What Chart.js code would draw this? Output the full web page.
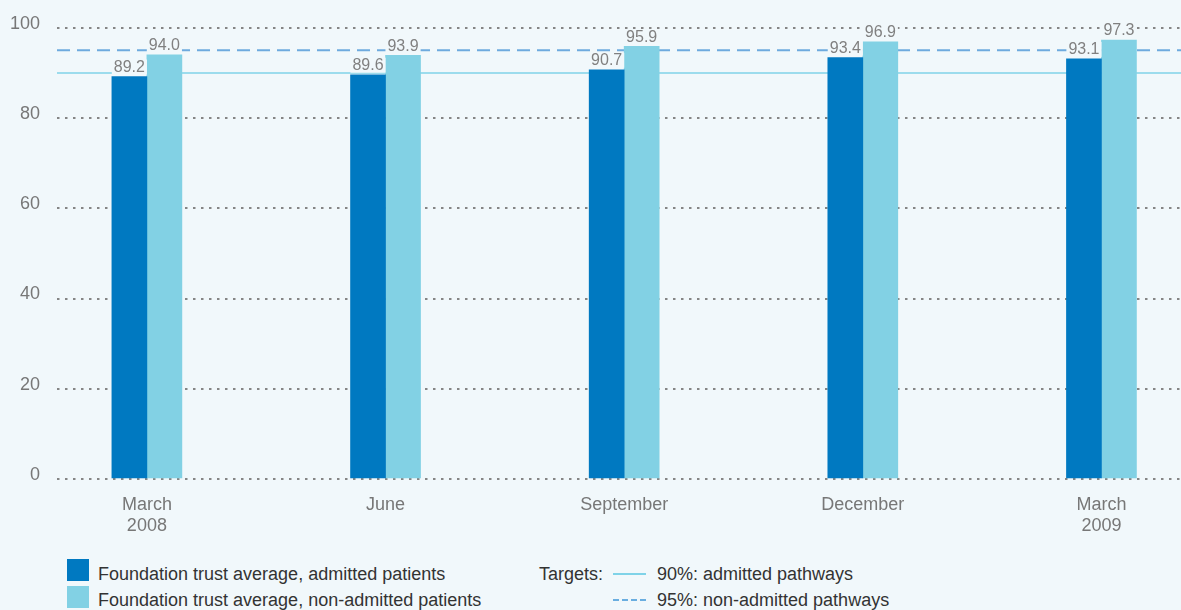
<!DOCTYPE html>
<html>
<head>
<meta charset="utf-8">
<script src="https://cdn.jsdelivr.net/npm/chart.js@4/dist/chart.umd.min.js"></script>
<style>
  body { margin: 0; background: #f1f8fb; font-family: "Liberation Sans", Arial, sans-serif; }
  #wrap { position: absolute; left: 0; top: 0; width: 1181px; height: 545px; }
  .leg { position: absolute; font-size: 18px; color: #333; line-height: 20px; white-space: nowrap; }
  .sw { position: absolute; width: 22px; height: 22px; }
  .ln { position: absolute; width: 33px; height: 0; }
</style>
</head>
<body>
<div id="wrap"><canvas id="myChart" width="1181" height="545"></canvas></div>

<div class="sw" style="left:67px; top:559px; background:#0079c1"></div>
<div class="leg" style="left:98px; top:564px">Foundation trust average, admitted patients</div>
<div class="sw" style="left:67px; top:586px; background:#82d1e4"></div>
<div class="leg" style="left:98px; top:590px">Foundation trust average, non-admitted patients</div>

<div class="leg" style="left:539px; top:564px">Targets:</div>
<div class="ln" style="left:613px; top:573px; border-top:2px solid #7fd3e8"></div>
<div class="leg" style="left:657px; top:564px">90%: admitted pathways</div>
<div class="ln" style="left:613px; top:599px; border-top:2px dashed #6aaee0"></div>
<div class="leg" style="left:657px; top:590px">95%: non-admitted pathways</div>

<script>
// months after March 2008
const monthIdx = [0, 3, 6, 9, 12];
const xLabels = [["March", "2008"], "June", "September", "December", ["March", "2009"]];
const admitted = [89.2, 89.6, 90.7, 93.4, 93.1];
const nonAdmitted = [94.0, 93.9, 95.9, 96.9, 97.3];
const targetAdmitted = 90;
const targetNonAdmitted = 95;

const X_MIN = -1.13;
const X_MAX = 13.0;

function points(values) {
    return values.map((v, i) => ({ x: monthIdx[i], y: v }));
}

const valueLabels = {
    id: 'valueLabels',
    afterDatasetsDraw(chart) {
        const ctx = chart.ctx;
        ctx.save();
        ctx.font = '16px "Liberation Sans", Arial, sans-serif';
        ctx.textAlign = 'center';
        ctx.textBaseline = 'bottom';
        chart.data.datasets.forEach((ds, di) => {
            if (ds.type != 'bar') return;
            let meta = chart.getDatasetMeta(di);
            meta.data.forEach((bar, i) => {
                let txt = ds.data[i].y.toFixed(1);
                let w = ctx.measureText(txt).width;
                ctx.fillStyle = '#f1f8fb';
                ctx.fillRect(bar.x - w / 2 - 2, bar.y - 17, w + 4, 15);
                ctx.fillStyle = '#808080';
                ctx.fillText(txt, bar.x, bar.y - 1);
            });
        });
        ctx.restore();
    }
};

const ctx = document.getElementById('myChart');
new Chart(ctx, {
    data: {
        datasets: [
            { type: 'bar', data: points(admitted), backgroundColor: '#0079c1', barThickness: 35, order: 0 },
            { type: 'bar', data: points(nonAdmitted), backgroundColor: '#82d1e4', barThickness: 35, order: 0 },
            { type: 'line', data: [{ x: X_MIN, y: targetAdmitted }, { x: X_MAX, y: targetAdmitted }],
              borderColor: '#7fd3e8', borderWidth: 1.5, pointRadius: 0, order: 2 },
            { type: 'line', data: [{ x: X_MIN, y: targetNonAdmitted }, { x: X_MAX, y: targetNonAdmitted }],
              borderColor: '#6eaade', borderWidth: 2, borderDash: [13, 7], pointRadius: 0, order: 2 },
        ]
    },
    options: {
        responsive: false,
        animation: { duration: 0 },
        layout: { padding: { top: 24, right: 0, left: 0, bottom: 0 } },
        plugins: { legend: { display: false }, tooltip: { enabled: false } },
        scales: {
            x: {
                type: 'linear',
                min: X_MIN,
                max: X_MAX,
                offset: false,
                bounds: 'data',
                grid: { display: false, offset: false },
                border: { display: false },
                afterBuildTicks: (scale) => { scale.ticks = monthIdx.map(v => ({ value: v })); },
                afterFit: (scale) => { scale.height = 66; },
                ticks: {
                    padding: 7,
                    color: '#777',
                    font: { size: 18, family: '"Liberation Sans", Arial, sans-serif', lineHeight: 1.2 },
                    maxRotation: 0,
                    autoSkip: false,
                    callback: (val, i) => xLabels[i],
                }
            },
            y: {
                min: 0,
                max: 100,
                afterFit: (scale) => { scale.width = 57; },
                border: { display: false, dash: [2.5, 5.5] },
                grid: {
                    drawTicks: false,
                    color: '#858585',
                    lineWidth: 2,
                },
                ticks: {
                    stepSize: 20,
                    padding: 17,
                    labelOffset: -4,
                    color: '#777',
                    font: { size: 18, family: '"Liberation Sans", Arial, sans-serif' },
                }
            }
        }
    },
    plugins: [valueLabels]
});
</script>
</body>
</html>
